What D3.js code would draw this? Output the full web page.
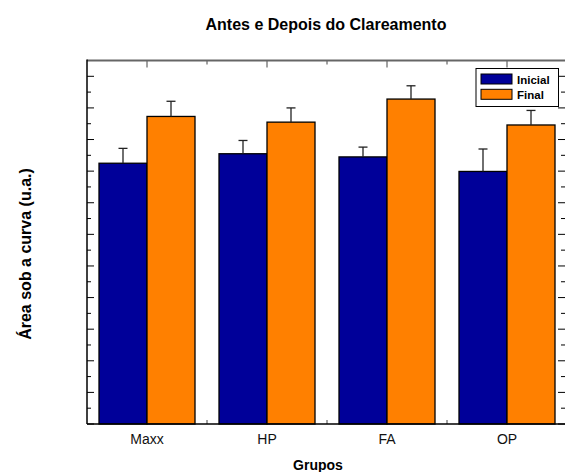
<!DOCTYPE html>
<html>
<head>
<meta charset="utf-8">
<script src="https://cdn.jsdelivr.net/npm/d3@7"></script>
<style>
  html, body { margin: 0; padding: 0; background: #fff; }
  svg { display: block; font-family: "Liberation Sans", Arial, sans-serif; }
</style>
</head>
<body>
<svg id="chart" width="565" height="472"></svg>
<script>
// ---- data ----
const categories = ["Maxx", "HP", "FA", "OP"];
const seriesNames = ["Inicial", "Final"];
const inicialValues = [82.5, 85.5, 84.5, 79.9];
const inicialErrors = [4.7, 4.2, 3.1, 7.1];
const finalValues = [97.3, 95.5, 102.8, 94.6];
const finalErrors = [4.8, 4.5, 4.2, 4.6];
const seriesColors = ["#000099", "#FF8000"];
const titleText = "Antes e Depois do Clareamento";
const xTitle = "Grupos";
const yTitle = "Área sob a curva (u.a.)";

(function () {
const svg = d3.select("#chart");
const pL = 87, pR = 567, pT = 60.5, pB = 424;

const x = d3.scaleBand().domain(categories).range([pL, pR])
  .paddingInner(0.2).paddingOuter(0.1);
const xs = d3.scaleBand().domain(seriesNames).range([0, x.bandwidth()]);
const y = d3.scaleLinear().domain([0, 115]).range([pB, pT]);

const rows = categories.map((c, i) => ({
  cat: c,
  vals: [
    { s: "Inicial", v: inicialValues[i], e: inicialErrors[i] },
    { s: "Final", v: finalValues[i], e: finalErrors[i] }
  ]
}));

const yTicks = d3.range(0, 116, 5);
const isMajorY = v => v % 10 === 0;

svg.append("g").selectAll("line").data(yTicks).join("line")
  .attr("x1", pL).attr("x2", d => pL + (isMajorY(d) ? 7 : 4))
  .attr("y1", d => y(d)).attr("y2", d => y(d))
  .attr("stroke", "#000").attr("stroke-width", 1);
svg.append("g").selectAll("line").data(yTicks).join("line")
  .attr("x1", pR).attr("x2", d => pR - (isMajorY(d) ? 9 : 6))
  .attr("y1", d => y(d)).attr("y2", d => y(d))
  .attr("stroke", "#000").attr("stroke-width", 1);

const centers = categories.map(c => x(c) + x.bandwidth() / 2);
const bounds = categories.slice(1).map(c => x(c) - x.step() * x.paddingInner() / 2);
const gt = svg.append("g");
gt.selectAll("line.maj").data(centers).join("line").attr("class", "maj")
  .attr("x1", d => d).attr("x2", d => d).attr("y1", pT).attr("y2", pT + 7)
  .attr("stroke", "#444").attr("stroke-width", 1);
gt.selectAll("line.min").data(bounds).join("line").attr("class", "min")
  .attr("x1", d => d).attr("x2", d => d).attr("y1", pT).attr("y2", pT + 4)
  .attr("stroke", "#444").attr("stroke-width", 1);
gt.selectAll("line.bmin").data(bounds).join("line").attr("class", "bmin")
  .attr("x1", d => d).attr("x2", d => d).attr("y1", pB).attr("y2", pB - 4)
  .attr("stroke", "#444").attr("stroke-width", 1);

const grp = svg.append("g").selectAll("g").data(rows).join("g")
  .attr("transform", d => `translate(${x(d.cat)},0)`);
grp.selectAll("rect").data(d => d.vals).join("rect")
  .attr("x", d => xs(d.s))
  .attr("y", d => y(d.v))
  .attr("width", xs.bandwidth())
  .attr("height", d => y(0) - y(d.v))
  .attr("fill", (d, i) => seriesColors[i])
  .attr("stroke", "#000").attr("stroke-width", 1.3);
grp.selectAll("line.err").data(d => d.vals).join("line").attr("class", "err")
  .attr("x1", d => xs(d.s) + xs.bandwidth() / 2)
  .attr("x2", d => xs(d.s) + xs.bandwidth() / 2)
  .attr("y1", d => y(d.v)).attr("y2", d => y(d.v + d.e))
  .attr("stroke", "#222").attr("stroke-width", 1.3);
grp.selectAll("line.cap").data(d => d.vals).join("line").attr("class", "cap")
  .attr("x1", d => xs(d.s) + xs.bandwidth() / 2 - 4.5)
  .attr("x2", d => xs(d.s) + xs.bandwidth() / 2 + 4.5)
  .attr("y1", d => y(d.v + d.e)).attr("y2", d => y(d.v + d.e))
  .attr("stroke", "#222").attr("stroke-width", 1.3);

svg.append("line").attr("x1", pL).attr("x2", pR).attr("y1", pT).attr("y2", pT)
  .attr("stroke", "#666").attr("stroke-width", 2);
svg.append("line").attr("x1", pL).attr("x2", pR).attr("y1", pB).attr("y2", pB)
  .attr("stroke", "#000").attr("stroke-width", 1.5);
svg.append("line").attr("x1", pL).attr("x2", pL).attr("y1", pT - 1).attr("y2", pB)
  .attr("stroke", "#000").attr("stroke-width", 1.5);

svg.append("g").selectAll("text").data(categories).join("text")
  .attr("x", d => x(d) + x.bandwidth() / 2).attr("y", 444)
  .attr("text-anchor", "middle").attr("font-size", 14).attr("fill", "#111")
  .text(d => d);

svg.append("text").attr("x", 326).attr("y", 30).attr("text-anchor", "middle")
  .attr("font-size", 16).attr("font-weight", "bold").text(titleText);
svg.append("text").attr("x", 318).attr("y", 470).attr("text-anchor", "middle")
  .attr("font-size", 14).attr("font-weight", "bold").text(xTitle);
svg.append("text").attr("transform", "translate(31,254) rotate(-90)")
  .attr("text-anchor", "middle").attr("font-size", 16).attr("font-weight", "bold").text(yTitle);

const lg = svg.append("g");
lg.append("rect").attr("x", 476).attr("y", 68.5).attr("width", 82.5).attr("height", 38)
  .attr("fill", "#fff").attr("stroke", "#000").attr("stroke-width", 1);
const li = lg.selectAll("g").data(seriesNames).join("g")
  .attr("transform", (d, i) => `translate(481,${74 + i * 15.3})`);
li.append("rect").attr("width", 31).attr("height", 10)
  .attr("fill", (d, i) => seriesColors[i]).attr("stroke", "#000").attr("stroke-width", 1);
li.append("text").attr("x", 36).attr("y", 9.5).attr("font-size", 11.5)
  .attr("font-weight", "bold").text(d => d);
})();
</script>
</body>
</html>
